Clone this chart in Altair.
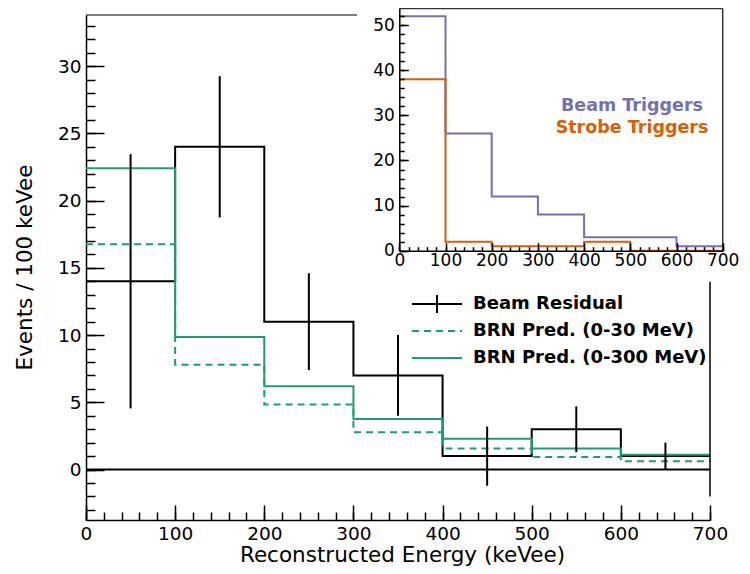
import altair as alt
import pandas as pd

# ---------------- data ----------------
edges = [0, 100, 200, 300, 400, 500, 600, 700]
beam_residual = [14, 24, 11, 7, 1, 3, 1]
beam_residual_err = [9.45, 5.25, 3.6, 3.0, 2.2, 1.7, 1.0]
brn_pred_0_30 = [16.76, 7.80, 4.83, 2.78, 1.56, 0.94, 0.62]
brn_pred_0_300 = [22.4, 9.85, 6.19, 3.76, 2.30, 1.56, 1.11]
edge_bar_x = [700]
edge_bar_lo = [-2.0]
edge_bar_hi = [14.0]

beam_triggers = [52, 26, 12, 8, 3, 3, 1]
strobe_triggers = [38, 2, 1, 1, 2, 0, 0]

main_x_ticks = list(range(0, 701, 100))
main_x_minor = list(range(0, 701, 20))
main_y_ticks = list(range(0, 31, 5))
main_y_minor = list(range(-3, 34))
inset_x_ticks = list(range(0, 701, 100))
inset_x_minor = list(range(0, 701, 20))
inset_y_ticks = list(range(0, 51, 10))
inset_y_minor = list(range(0, 54, 2))

legend_labels = ["Beam Residual", "BRN Pred. (0-30 MeV)", "BRN Pred. (0-300 MeV)"]
inset_labels = ["Beam Triggers", "Strobe Triggers"]

# ---------------- style ----------------
FONT = "DejaVu Sans"
W, H = 624, 505
GREEN = "#1b9e77"
PURPLE = "#7570b3"
ORANGE = "#d95f02"
DASH = [7, 5]


def step_df(vals):
    return pd.DataFrame({"x": edges, "y": list(vals) + [vals[-1]]})


centers = [(edges[i] + edges[i + 1]) / 2 for i in range(len(beam_residual))]
err_df = pd.DataFrame({
    "x": centers,
    "lo": [v - e for v, e in zip(beam_residual, beam_residual_err)],
    "hi": [v + e for v, e in zip(beam_residual, beam_residual_err)],
})
edge_df = pd.DataFrame({"x": edge_bar_x, "lo": edge_bar_lo, "hi": edge_bar_hi})

mx = alt.Scale(domain=[0, 700], nice=False, zero=False)
my = alt.Scale(domain=[-3.75, 33.8], nice=False, zero=False)


def tick_axis(orient, offset, values, size):
    return alt.Axis(orient=orient, offset=offset, values=values, tickSize=size,
                    labels=False, domain=False, title=None, grid=False,
                    tickWidth=1.5, tickColor="black")


# ---------------- main plot ----------------
black_step = alt.Chart(step_df(beam_residual)).mark_line(
    interpolate="step-after", color="black", strokeWidth=2
).encode(
    x=alt.X("x:Q", scale=mx, axis=alt.Axis(
        orient="bottom", values=main_x_ticks, ticks=False, labelPadding=4,
        labelFontSize=18.5, labelFont=FONT, labelFlush=False, labelOverlap=False,
        labelBaseline="top",
        title="Reconstructed Energy (keVee)", titleFontSize=21.5, titleFont=FONT,
        titleFontWeight="normal", titleX=316, titleY=41, titleAlign="center",
        titleBaseline="alphabetic", domainWidth=1.5, domainColor="black", grid=False)),
    y=alt.Y("y:Q", scale=my, axis=alt.Axis(
        orient="left", values=main_y_ticks, ticks=False, labelPadding=5,
        labelFontSize=18.5, labelFont=FONT, labelFlush=False, labelOverlap=False,
        title="Events / 100 keVee", titleFontSize=21.5, titleFont=FONT,
        titleFontWeight="normal", titleX=-61, titleY=252, titleAngle=-90,
        titleAlign="center", titleBaseline="middle",
        domainWidth=1.5, domainColor="black", grid=False)),
)

green_solid = alt.Chart(step_df(brn_pred_0_300)).mark_line(
    interpolate="step-after", color=GREEN, strokeWidth=2
).encode(
    x=alt.X("x:Q", scale=mx, axis=tick_axis("top", -H, main_x_ticks, 15)),
    y=alt.Y("y:Q", scale=my, axis=tick_axis("right", -W, main_y_ticks, 18)),
)

green_dashed = alt.Chart(step_df(brn_pred_0_30)).mark_line(
    interpolate="step-after", color=GREEN, strokeWidth=2, strokeDash=DASH
).encode(
    x=alt.X("x:Q", scale=mx, axis=tick_axis("top", -H, main_x_minor, 8)),
    y=alt.Y("y:Q", scale=my, axis=tick_axis("right", -W, main_y_minor, 9)),
)

err_bars = alt.Chart(err_df).mark_rule(color="black", strokeWidth=2).encode(
    x=alt.X("x:Q", scale=mx, axis=None),
    y=alt.Y("lo:Q", scale=my, axis=None),
    y2="hi:Q",
)

edge_bar = alt.Chart(edge_df).mark_rule(color="black", strokeWidth=1.5).encode(
    x=alt.X("x:Q", scale=mx, axis=None),
    y=alt.Y("lo:Q", scale=my, axis=None),
    y2="hi:Q",
)

zero_line = alt.Chart(pd.DataFrame({"a": [0]})).mark_rule(
    color="black", strokeWidth=2
).encode(
    x=alt.value(0), x2=alt.value(W),
    y=alt.YDatum(0, scale=my, axis=None),
)

top_frame = alt.Chart(pd.DataFrame({"a": [0]})).mark_rule(
    color="black", strokeWidth=1
).encode(x=alt.value(0), x2=alt.value(W), y=alt.value(0))

legend_layers = []
leg_y = [289, 316, 343]
leg_style = [("black", None), (GREEN, DASH), (GREEN, None)]
for lab, ly, (col, dash) in zip(legend_labels, leg_y, leg_style):
    ldf = pd.DataFrame({"label": [lab]})
    kw = {"color": col, "strokeWidth": 2}
    if dash:
        kw["strokeDash"] = dash
    legend_layers.append(
        alt.Chart(ldf).mark_rule(**kw).encode(
            x=alt.value(326), x2=alt.value(376), y=alt.value(ly)))
    legend_layers.append(
        alt.Chart(ldf).mark_text(
            align="left", baseline="middle", font=FONT, fontSize=18,
            fontWeight="bold", color="black"
        ).encode(x=alt.value(387), y=alt.value(ly), text="label:N"))
legend_layers.append(
    alt.Chart(pd.DataFrame({"label": [legend_labels[0]]})).mark_rule(
        color="black", strokeWidth=2
    ).encode(x=alt.value(351), y=alt.value(leg_y[0] - 9), y2=alt.value(leg_y[0] + 9)))

main = alt.layer(
    black_step, green_solid, green_dashed, zero_line, err_bars, edge_bar,
    top_frame, *legend_layers
).resolve_axis(x="independent", y="independent")

# ---------------- inset ----------------
IX0, IX1 = 313.3, 636.7
IY0, IY1 = 235.7, -6.5
ix = alt.Scale(domain=[0, 700], range=[IX0, IX1], nice=False, zero=False)
iy = alt.Scale(domain=[0, 53.7], range=[IY0, IY1], nice=False, zero=False)

pad_bg = alt.Chart(pd.DataFrame({"a": [0]})).mark_rect(color="white").encode(
    x=alt.value(271), x2=alt.value(W + 40), y=alt.value(-20), y2=alt.value(266.5))


def inset_tick_axis(orient, offset, values, size):
    return alt.Axis(orient=orient, offset=offset, values=values, tickSize=size,
                    labels=False, domain=False, title=None, grid=False,
                    tickWidth=1.5, tickColor="black", zindex=1)


purple = alt.Chart(step_df(beam_triggers)).mark_line(
    interpolate="step-after", color=PURPLE, strokeWidth=2
).encode(
    x=alt.X("x:Q", scale=ix, axis=alt.Axis(
        orient="bottom", offset=-(H - IY0), values=inset_x_ticks, ticks=False,
        labelPadding=2, labelFontSize=17, labelFont=FONT, labelFlush=False,
        labelOverlap=False, labelBaseline="top", title=None,
        domainWidth=1.5, domainColor="black", grid=False, zindex=1)),
    y=alt.Y("y:Q", scale=iy, axis=alt.Axis(
        orient="left", offset=-IX0, values=inset_y_ticks, ticks=False,
        labelPadding=5, labelFontSize=17, labelFont=FONT, labelFlush=False,
        labelOverlap=False, title=None,
        domainWidth=1.5, domainColor="black", grid=False, zindex=1)),
)

orange = alt.Chart(step_df(strobe_triggers)).mark_line(
    interpolate="step-after", color=ORANGE, strokeWidth=2
).encode(
    x=alt.X("x:Q", scale=ix, axis=inset_tick_axis("top", -IY0, inset_x_ticks, 8)),
    y=alt.Y("y:Q", scale=iy, axis=inset_tick_axis("right", -(W - IX0), inset_y_ticks, 9)),
)

minor_carrier = alt.Chart(step_df(strobe_triggers)).mark_line(
    interpolate="step-after", opacity=0
).encode(
    x=alt.X("x:Q", scale=ix, axis=inset_tick_axis("top", -IY0, inset_x_minor, 4)),
    y=alt.Y("y:Q", scale=iy, axis=inset_tick_axis("right", -(W - IX0), inset_y_minor, 5)),
)

frame_top = alt.Chart(pd.DataFrame({"a": [0]})).mark_rule(
    color="#333333", strokeWidth=1.5
).encode(x=alt.value(IX0), x2=alt.value(IX1), y=alt.value(IY1))
frame_right = alt.Chart(pd.DataFrame({"a": [0]})).mark_rule(
    color="#333333", strokeWidth=1.5
).encode(x=alt.value(IX1), y=alt.value(IY1), y2=alt.value(IY0))

inset_text = []
for lab, ty, col in zip(inset_labels, [91, 113], [PURPLE, ORANGE]):
    inset_text.append(
        alt.Chart(pd.DataFrame({"label": [lab]})).mark_text(
            align="center", baseline="middle", font=FONT, fontSize=17.5,
            fontWeight="bold", color=col
        ).encode(x=alt.value(546), y=alt.value(ty), text="label:N"))

inset = alt.layer(
    pad_bg, purple, orange, minor_carrier, frame_top, frame_right, *inset_text
).resolve_axis(x="independent", y="independent")

chart = alt.layer(main, inset).resolve_scale(
    x="independent", y="independent"
).properties(
    width=W, height=H, autosize="none",
    padding={"left": 78, "top": 7, "right": 32, "bottom": 46},
    background="white",
).configure_view(stroke=None).configure_axis(
    grid=False, labelColor="black", titleColor="black",
    labelFont=FONT, titleFont=FONT,
)

chart.save("out.html", embed_options={"renderer": "svg", "actions": False})
